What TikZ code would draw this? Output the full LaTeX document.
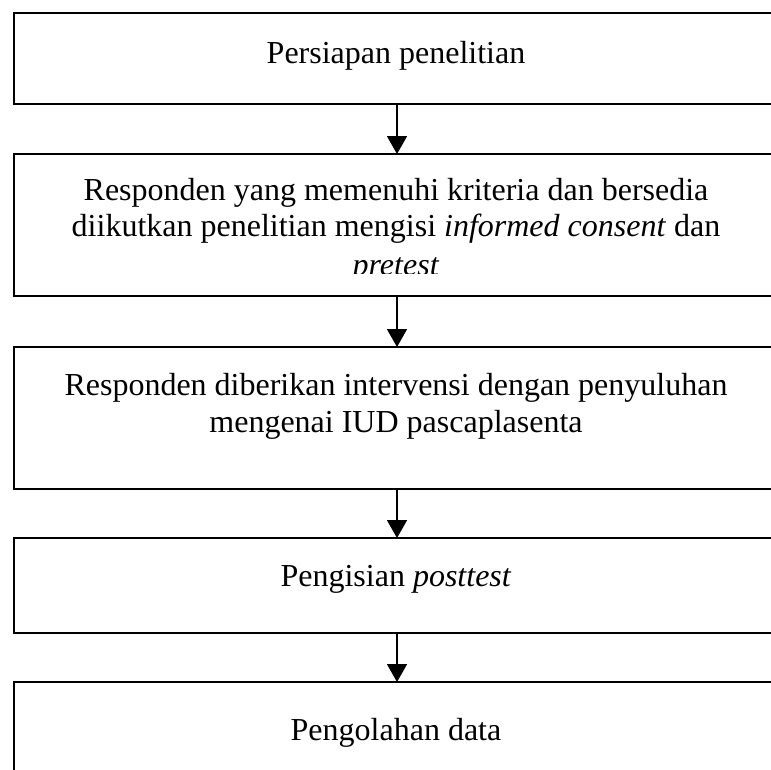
\documentclass[tikz,border=0pt]{standalone}
\usepackage{fontspec}
\setmainfont{Liberation Serif}
\usetikzlibrary{arrows.meta}
\tikzset{
  flowbox/.style={draw=black, line width=1.8pt, rectangle, minimum width=766pt, anchor=north west, inner sep=0pt, outer sep=0pt},
  txt/.style={anchor=base, inner sep=0pt, font=\fontsize{32}{36}\selectfont},
  arr/.style={draw=black, line width=1.8pt, -{Triangle[width=20pt,length=18pt]}}
}
\begin{document}
\begin{tikzpicture}[x=1pt,y=-1pt]
\useasboundingbox (0,0) rectangle (771,769);
\clip (0,0) rectangle (771,769);
% boxes
\node[flowbox, minimum height=91pt]  (b1) at (14,13) {};
\node[flowbox, minimum height=142pt] (b2) at (14,154) {};
\node[flowbox, minimum height=142pt] (b3) at (14,347) {};
\node[flowbox, minimum height=95pt]  (b4) at (14,538) {};
\node[flowbox, minimum height=120pt] (b5) at (14,682) {};
% texts
\node[txt] (t1) at (396,63) {Persiapan penelitian};
\node[txt] (t2a) at (396,200) {Responden yang memenuhi kriteria dan bersedia};
\node[txt] (t2b) at (396,236) {diikutkan penelitian mengisi \textit{informed consent} dan};
\begin{scope}
\clip (16,156) rectangle (778,273);
\node[txt] (t2c) at (396,275) {\textit{pretest}};
\end{scope}
\node[txt] (t3a) at (396,395) {Responden diberikan intervensi dengan penyuluhan};
\node[txt] (t3b) at (396,432) {mengenai IUD pascaplasenta};
\node[txt] (t4) at (396,586) {Pengisian \textit{posttest}};
\node[txt] (t5) at (396,740) {Pengolahan data};
% arrows
\draw[arr] (b1.south) -- (b2.north);
\draw[arr] (b2.south) -- (b3.north);
\draw[arr] (b3.south) -- (b4.north);
\draw[arr] (b4.south) -- (b5.north);
\end{tikzpicture}
\end{document}
